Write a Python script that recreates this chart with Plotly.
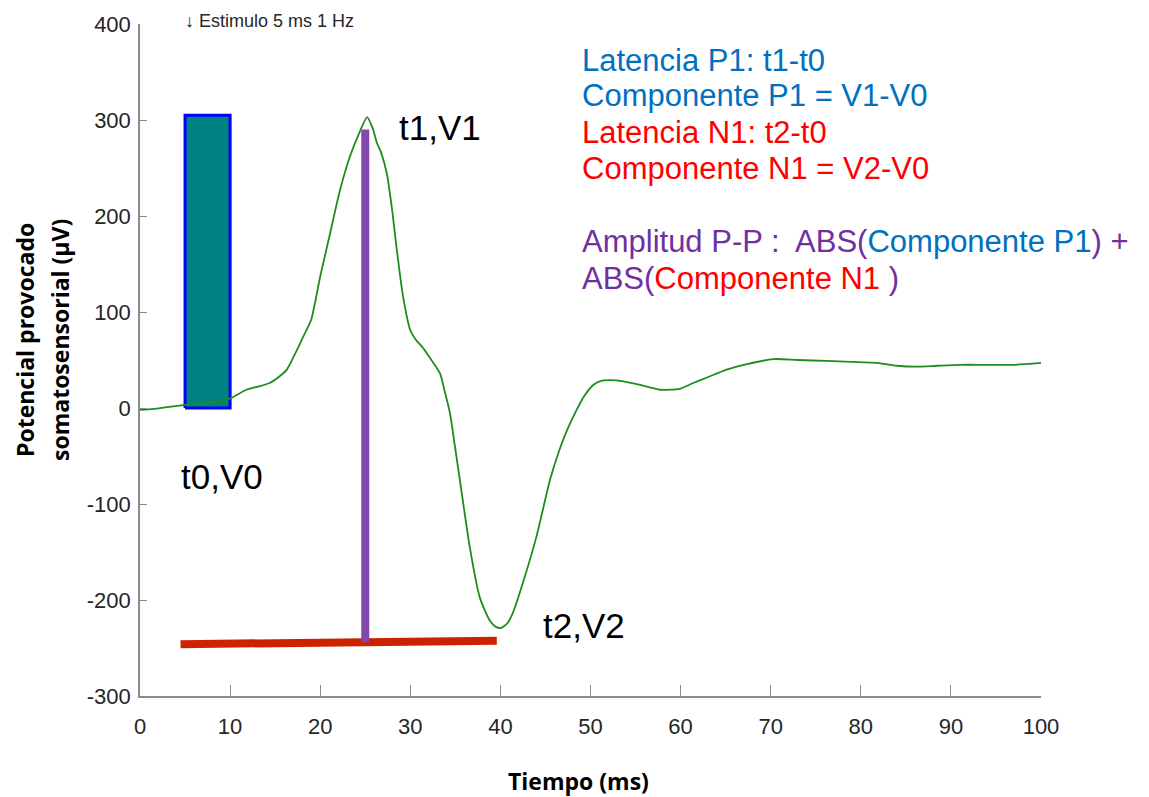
import plotly.graph_objects as go

# ---------------- data ----------------
time_ms = [0, 1.5, 3, 4.8, 6, 8, 10, 11.8, 13, 14.4, 15.5, 16.3, 17.4, 18.1, 19, 20,
           21.1, 22.2, 23.3, 24.4, 25.2, 25.8, 26.3, 26.8, 27.4, 28, 28.5, 29.2, 30,
           30.7, 31.3, 32.2, 33.3, 33.8, 34.4, 34.8, 35.5, 36.6, 37.7, 38.8, 39.5,
           40.1, 40.8, 41.4, 42.5, 44, 45.5, 46.5, 47.4, 48.3, 49.2, 50.3, 51.1, 52.2,
           53.5, 55.5, 57.7, 59.9, 61.4, 63, 65.1, 67.5, 70.3, 73, 76.2, 79, 81.8, 84,
           86.2, 88.5, 91, 94, 97, 100]
potential_uv = [-2, -1, 1, 3, 4, 6, 10, 19, 22, 26, 33, 40, 60, 74, 92, 137,
                182, 227, 262, 288, 303, 292, 276, 265, 244, 205, 165, 116, 81,
                70, 64, 52, 36, 18, -5, -30, -75, -145, -197, -221, -228,
                -229, -224, -213, -182, -134, -75, -45, -23, -5, 11, 24, 28, 29,
                28, 24, 19, 20, 26, 32, 40, 46, 51, 50, 49, 48, 47, 44,
                43, 44, 45, 45, 45, 47]

stim_window_ms = [5, 10]
stim_height_uv = [0, 305]
p1_line_t = [25, 25]
p1_line_v = [-244, 290]
n1_line_t = [4.5, 39.6]
n1_line_v = [-246, -242.5]

x_tick_vals = [0, 10, 20, 30, 40, 50, 60, 70, 80, 90, 100]
x_tick_text = [str(v) for v in x_tick_vals]
y_tick_vals = [-300, -200, -100, 0, 100, 200, 300, 400]
y_tick_text = ["-300", "-200", "-100", "0", "100", "200", "300", "400"]

# ---------------- layout geometry ----------------
W, H = 1149, 797
ML, MR, MT, MB = 140, 108, 24, 101
PW, PH = W - ML - MR, H - MT - MB


def px(xp):
    return (xp - ML) / PW


def py(yp):
    return (H - MB - yp) / PH


BLUE = "#0070C0"
RED = "#FF0000"
PURPLE = "#7030A0"
NARROW = "Liberation Sans Narrow, Arial Narrow, Liberation Sans, Arial"

fig = go.Figure()

# stimulus rectangle
fig.add_trace(go.Scatter(
    x=[stim_window_ms[0], stim_window_ms[1], stim_window_ms[1], stim_window_ms[0], stim_window_ms[0]],
    y=[stim_height_uv[0], stim_height_uv[0], stim_height_uv[1], stim_height_uv[1], stim_height_uv[0]],
    mode="lines", fill="toself", fillcolor="#008080",
    line=dict(color="#0000FF", width=3), hoverinfo="skip", showlegend=False))

# green trace
fig.add_trace(go.Scatter(
    x=time_ms, y=potential_uv, mode="lines",
    line=dict(color="#1E8C1E", width=1.8, shape="spline", smoothing=0.6),
    showlegend=False))

# red baseline
fig.add_trace(go.Scatter(
    x=n1_line_t, y=n1_line_v, mode="lines",
    line=dict(color="#CC2200", width=8), showlegend=False))

# purple vertical
fig.add_trace(go.Scatter(
    x=p1_line_t, y=p1_line_v, mode="lines",
    line=dict(color="#8347B0", width=8), showlegend=False))

ann = []


def add_text(text, xpx, ypx, size, color="#000000", family="Arial, Liberation Sans",
             xanchor="left", textangle=0):
    ann.append(dict(text=text, x=px(xpx), y=py(ypx), xref="paper", yref="paper",
                    xanchor=xanchor, yanchor="middle", showarrow=False,
                    textangle=textangle,
                    font=dict(size=size, color=color, family=family)))


add_text("↓ Estimulo 5 ms 1 Hz", 183, 21, 18, color="#262626", family=NARROW)
add_text("t1,V1", 440, 127, 35, xanchor="center")
add_text("t0,V0", 222, 477, 35, xanchor="center")
add_text("t2,V2", 584, 625, 35, xanchor="center")

rs = 31
add_text("Latencia P1: t1-t0", 580, 60, rs, color=BLUE)
add_text("Componente P1 = V1-V0", 580, 96, rs, color=BLUE)
add_text("Latencia N1: t2-t0", 580, 132, rs, color=RED)
add_text("Componente N1 = V2-V0", 580, 168, rs, color=RED)
add_text("Amplitud P-P :\u00a0 ABS(<span style='color:%s'>Componente P1</span>) +" % BLUE,
         580, 242, rs, color=PURPLE)
add_text("ABS(<span style='color:%s'>Componente N1\u00a0</span>)" % RED,
         580, 278, rs, color=PURPLE)

add_text("<b>Tiempo (ms)</b>", 578, 781, 23, family="Open Sans", xanchor="center")
add_text("<b>Potencial provocado</b>", 25, 340, 23, family="Open Sans",
         xanchor="center", textangle=-90)
add_text("<b>somatosensorial (µV)</b>", 60, 340, 23, family="Open Sans",
         xanchor="center", textangle=-90)

axis_common = dict(showline=True, linecolor="#8C8C8C", linewidth=1.5, showgrid=False,
                   zeroline=False, ticks="inside", tickcolor="#8C8C8C", tickwidth=1.2,
                   tickfont=dict(family=NARROW, size=22, color="#262626"),
                   tickmode="array")

fig.update_layout(
    width=W, height=H, autosize=False,
    margin=dict(l=ML, r=MR, t=MT, b=MB, pad=0),
    paper_bgcolor="white", plot_bgcolor="white",
    showlegend=False,
    xaxis=dict(range=[0, 100], tickvals=x_tick_vals, ticktext=x_tick_text,
               ticklen=11, ticklabelstandoff=10, **axis_common),
    yaxis=dict(range=[-300, 400], tickvals=y_tick_vals, ticktext=y_tick_text,
               ticklen=7, ticklabelstandoff=3, **axis_common),
    annotations=ann,
)

fig.write_html("out.html")
